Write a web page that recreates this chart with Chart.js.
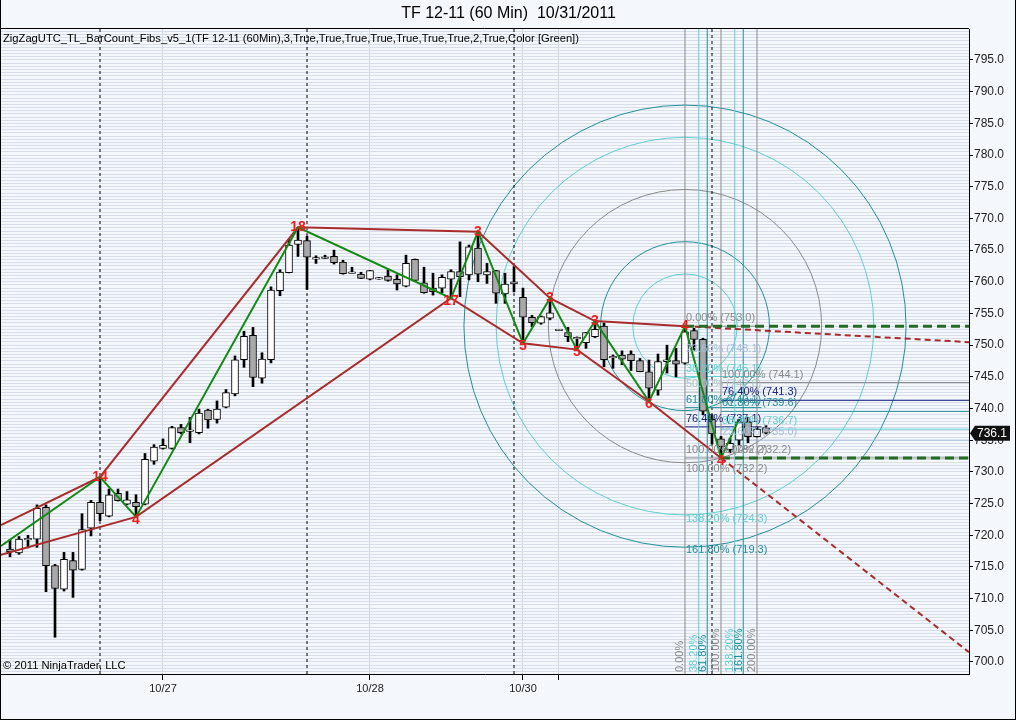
<!DOCTYPE html>
<html><head><meta charset="utf-8">
<script src="https://cdn.jsdelivr.net/npm/chart.js@4.4.1/dist/chart.umd.min.js"></script>
<style>html,body{margin:0;padding:0;background:#f4f7fb;}#wrap{width:1016px;height:720px;position:relative;}</style>
</head><body><div id="wrap"><canvas id="c" width="1016" height="720"></canvas></div>
<script>
// ---------------- data ----------------
const titleText = 'TF 12-11 (60 Min)  10/31/2011';
const indicatorText = 'ZigZagUTC_TL_BarCount_Fibs_v5_1(TF 12-11 (60Min),3,True,True,True,True,True,True,True,2,True,Color [Green])';
const copyrightText = '\u00A9 2011 NinjaTrader, LLC';

const opens  = [717.8,717.2,719.4,719.4,724.4,715.2,711.5,716.0,714.6,721.1,725.2,723.0,726.6,724.9,725.2,724.9,731.7,733.7,733.7,737.0,736.5,736.2,739.75,738.3,740.2,742.3,747.7,751.55,744.8,747.7,758.6,761.45,765.9,766.5,763.7,763.8,764.0,763.1,761.45,761.2,760.4,760.55,760.9,760.4,759.3,763.55,759.85,759.0,759.0,760.4,761.6,761.1,765.3,761.1,761.75,758.1,759.65,757.55,754.4,753.45,754.25,752.4,752.0,751.1,750.4,751.35,753.0,748.1,748.45,748.6,747.55,745.8,742.9,747.4,747.55,747.15,752.3,750.9,738.3,735.2,733.5,735.0,737.9,735.55,737.0];
const highs  = [719.3,719.8,720.0,724.8,724.8,715.4,717.3,717.3,723.4,725.5,729.2,727.3,727.3,726.9,726.4,732.9,734.3,735.2,737.2,737.5,738.6,739.9,739.9,741.2,743.0,748.3,752.2,752.8,748.8,759.2,761.9,766.7,768.6,767.2,764.1,764.2,765.0,763.4,762.3,761.5,761.8,760.7,761.9,761.1,764.2,763.6,762.3,761.35,761.1,761.9,766.3,765.8,767.9,762.9,761.8,761.35,762.4,759.0,754.7,754.6,757.4,752.5,752.8,751.3,752.0,753.8,753.5,748.45,749.1,749.1,747.9,747.65,748.6,750.0,749.5,753.0,752.65,751.1,739.0,735.6,735.3,738.3,738.6,737.1,737.3];
const lows   = [716.6,717.0,718.0,718.1,711.1,703.9,711.2,710.2,714.5,719.9,722.3,722.9,725.4,724.8,722.9,724.8,731.2,733.6,733.6,736.0,734.6,736.0,736.9,737.7,740.1,742.0,746.5,743.45,744.0,747.2,757.8,761.4,764.0,758.8,762.9,763.7,762.8,761.2,761.4,760.5,760.3,760.4,760.1,758.7,759.2,760.1,758.2,757.9,758.3,757.4,757.65,760.3,760.0,759.75,756.6,756.6,758.4,750.3,752.9,753.3,754.0,752.3,750.55,749.3,749.5,751.2,746.6,746.35,746.9,746.0,745.8,741.1,742.1,745.6,745.0,747.0,749.2,739.0,734.4,732.2,733.0,734.3,734.6,735.5,736.0];
const closes = [717.4,719.4,719.4,724.25,715.2,711.6,716.2,714.5,720.9,725.2,723.4,726.4,725.45,725.6,724.5,732.0,733.9,734.2,737.0,736.2,736.5,739.3,738.2,739.9,742.5,747.7,751.4,744.9,747.8,758.7,761.55,765.8,766.6,763.9,763.7,763.8,763.0,761.3,761.45,760.55,761.75,760.55,760.2,759.65,762.9,760.2,758.3,758.45,760.7,761.6,760.8,765.5,761.2,761.6,758.2,759.65,760.0,754.4,753.55,754.5,755.1,752.4,751.35,751.1,752.0,752.5,747.7,748.1,747.8,747.55,745.8,743.2,747.4,747.7,747.0,752.1,750.9,739.6,736.0,734.0,734.5,737.9,735.55,736.75,736.1];

const xTickValues = [17, 40, 57, 61];
const xTickLabels = ['10/27', '10/28', '10/30', ''];
const sessionBreaks = [10, 33, 56, 78];

// zigzag swing points (bar index, price, bar-count label)
const zigzagBars   = [-1, 10, 14, 32, 49, 52, 57, 60, 63, 65, 71, 75, 79, 81];
const zigzagPrices = [718.3, 729.2, 722.9, 768.6, 757.4, 767.9, 750.3, 757.4, 749.3, 753.8, 741.1, 753.0, 732.2, 738.3];
const pivotLabels  = ['', '14', '4', '18', '17', '3', '5', '3', '5', '3', '6', '4', '4', ''];

// trend lines joining swing highs / swing lows
const highLineBars   = [-1, 10, 32, 52, 60, 65, 75];
const highLinePrices = [721.6, 729.2, 768.6, 767.9, 757.4, 753.8, 753.0];
const lowLineBars    = [-1, 14, 49, 57, 63, 71, 79];
const lowLinePrices  = [716.9, 722.9, 757.4, 750.3, 749.3, 741.1, 732.2];

// fibonacci tools
const fibHighBar = 75, fibHighPrice = 753.0;
const fibLowBar = 79, fibLowPrice = 732.2;
const fibRetraceEndBar = 83.5;
const projTopPrice = 744.1;
const fibRetraceRatios = [0, 0.236, 0.382, 0.5, 0.618, 0.764, 1];
const fibExtRatios = [1, 1.382, 1.618];
const fibProjRatios = [0, 0.236, 0.382, 0.618, 0.764, 1];
const fibTimeRatios = [0, 0.382, 0.618, 1, 1.382, 1.618, 2];
const fibCircleRatios = [0.382, 0.618, 1, 1.382, 1.618];
const lastPrice = 736.1;

const yMin = 698.106, yMax = 799.892, yStep = 0.5, yLabelStep = 5;
const xMin = -1, xMax = 106.556;

// ---------------- styles ----------------
const FONT = '"Liberation Sans", Arial, sans-serif';
const C_GRAY = '#8a8a8a', C_LTEAL = '#5fd0d0', C_TEAL = '#238f9a', C_NAVY = '#1c2480', C_PALE = '#a9bedb', C_PALEGRAY = '#adc4c4';
function fibColor(r) {
  const k = Math.round(r * 1000);
  if (k === 236) return C_PALE;
  if (k === 382 || k === 1382) return C_LTEAL;
  if (k === 500) return C_PALEGRAY;
  if (k === 618 || k === 1618) return C_TEAL;
  if (k === 764) return C_NAVY;
  return C_GRAY;
}
function pct(r) { return (r * 100).toFixed(2) + '%'; }
const RED = 'rgb(168,44,44)', GREEN = '#118a11', DKGREEN = '#256b25';

// ---------------- datasets ----------------
const bars = opens.map((_, i) => i);
const bodyData = bars.map(i => {
  let a = opens[i], b = closes[i];
  if (Math.abs(a - b) < 0.15) { const m = (a + b) / 2; a = m - 0.12; b = m + 0.12; }
  return {x: i, y: [Math.min(a, b), Math.max(a, b)]};
});
const bodyColors = bars.map(i => closes[i] < opens[i] ? '#a9a9a9' : '#ffffff');
const wickData = bars.map(i => ({x: i, y: [lows[i], highs[i]]}));

function pts(xsArr, ysArr) { return xsArr.map((x, k) => ({x: x, y: ysArr[k]})); }
function lineDS(points, color, width, dash, order) {
  return {type: 'line', data: points, borderColor: color, borderWidth: width, borderDash: dash || [],
    pointRadius: 0, pointHoverRadius: 0, fill: false, tension: 0, order: order, borderCapStyle: 'butt'};
}
function extend(x0, y0, x1, y1, xe) { return y1 + (y1 - y0) / (x1 - x0) * (xe - x1); }

const datasets = [];
datasets.push(lineDS(pts(zigzagBars, zigzagPrices), GREEN, 2, [], 1));
datasets.push(lineDS(pts(highLineBars, highLinePrices), RED, 2, [], 2));
datasets.push(lineDS(pts(lowLineBars, lowLinePrices), RED, 2, [], 2));
{
  const n = highLineBars.length;
  const x0 = highLineBars[n - 2], y0 = highLinePrices[n - 2], x1 = highLineBars[n - 1], y1 = highLinePrices[n - 1];
  datasets.push(lineDS([{x: x1, y: y1}, {x: xMax, y: extend(x0, y0, x1, y1, xMax)}], RED, 2, [6, 4], 2));
  const m = lowLineBars.length;
  const a0 = lowLineBars[m - 2], b0 = lowLinePrices[m - 2], a1 = lowLineBars[m - 1], b1 = lowLinePrices[m - 1];
  datasets.push(lineDS([{x: a1, y: b1}, {x: xMax, y: extend(a0, b0, a1, b1, xMax)}], RED, 2, [6, 4], 2));
}
datasets.push(lineDS([{x: fibHighBar, y: fibHighPrice}, {x: xMax, y: fibHighPrice}], DKGREEN, 3, [9, 5], 0));
datasets.push(lineDS([{x: fibLowBar, y: fibLowPrice}, {x: xMax, y: fibLowPrice}], DKGREEN, 3, [9, 5], 0));

datasets.push({type: 'bar', data: bodyData, backgroundColor: bodyColors, borderColor: '#000', borderWidth: 1,
  borderSkipped: false, barThickness: 7, grouped: false, order: 4});
datasets.push({type: 'bar', data: wickData, backgroundColor: '#000', borderWidth: 0,
  barThickness: 2, grouped: false, order: 5});

sessionBreaks.forEach(b => datasets.push(lineDS([{x: b, y: yMin}, {x: b, y: yMax}], '#000', 1, [3, 3], 9)));
fibTimeRatios.forEach(r => {
  const b = fibHighBar + r * (fibLowBar - fibHighBar);
  datasets.push(lineDS([{x: b, y: yMin}, {x: b, y: yMax}], fibColor(r), 1, [], 8));
});
fibRetraceRatios.forEach(r => {
  const p = fibHighPrice - r * (fibHighPrice - fibLowPrice);
  datasets.push(lineDS([{x: fibHighBar, y: p}, {x: fibRetraceEndBar, y: p}], fibColor(r), 1, [], 8));
});
fibProjRatios.forEach(r => {
  const p = fibLowPrice + r * (projTopPrice - fibLowPrice);
  datasets.push(lineDS([{x: fibLowBar, y: p}, {x: xMax, y: p}], fibColor(r), 1, [], 8));
});

// ---------------- plugins ----------------
const bgPlugin = {
  id: 'bg',
  beforeDraw(chart) {
    const ctx = chart.ctx;
    ctx.save(); ctx.fillStyle = '#f4f7fb'; ctx.fillRect(0, 0, chart.width, chart.height); ctx.restore();
  },
  beforeDatasetsDraw(chart) {
    const {ctx, chartArea: a, scales: {x: xs, y: ys}} = chart;
    const cx = xs.getPixelForValue(fibHighBar), cy = ys.getPixelForValue(fibHighPrice);
    const px = xs.getPixelForValue(fibLowBar), py = ys.getPixelForValue(fibLowPrice);
    const d = Math.hypot(px - cx, py - cy);
    ctx.save();
    ctx.beginPath(); ctx.rect(a.left, a.top, a.right - a.left, a.bottom - a.top); ctx.clip();
    ctx.lineWidth = 1;
    fibCircleRatios.forEach(r => {
      ctx.strokeStyle = fibColor(r);
      ctx.beginPath(); ctx.arc(cx, cy, d * r, 0, Math.PI * 2); ctx.stroke();
    });
    ctx.restore();
  },
  afterDatasetsDraw(chart) {
    const {ctx, chartArea: a, scales: {x: xs, y: ys}} = chart;
    ctx.save();
    // fib retracement labels
    ctx.font = '11px ' + FONT; ctx.textAlign = 'left'; ctx.textBaseline = 'middle';
    const x1 = xs.getPixelForValue(fibHighBar) + 1;
    fibRetraceRatios.forEach(r => {
      const p = fibHighPrice - r * (fibHighPrice - fibLowPrice);
      ctx.fillStyle = fibColor(r);
      ctx.fillText(pct(r) + ' (' + p.toFixed(1) + ')', x1, ys.getPixelForValue(p) - 8);
    });
    fibExtRatios.forEach(r => {
      const p = fibHighPrice - r * (fibHighPrice - fibLowPrice);
      ctx.fillStyle = fibColor(r);
      ctx.fillText(pct(r) + ' (' + p.toFixed(1) + ')', x1, ys.getPixelForValue(p) + 11);
    });
    const x2 = xs.getPixelForValue(fibLowBar) + 1;
    fibProjRatios.forEach(r => {
      const p = fibLowPrice + r * (projTopPrice - fibLowPrice);
      ctx.fillStyle = fibColor(r);
      ctx.fillText(pct(r) + ' (' + p.toFixed(1) + ')', x2, ys.getPixelForValue(p) - 8);
    });
    // fib time labels (vertical)
    fibTimeRatios.forEach(r => {
      const x = xs.getPixelForValue(fibHighBar + r * (fibLowBar - fibHighBar));
      ctx.save();
      ctx.translate(x - 1.5, a.bottom - 2); ctx.rotate(-Math.PI / 2);
      ctx.textAlign = 'left'; ctx.textBaseline = 'alphabetic'; ctx.fillStyle = fibColor(r);
      ctx.fillText(pct(r), 0, 0);
      ctx.restore();
    });
    // pivot bar-count labels
    ctx.font = 'bold 14px ' + FONT; ctx.textAlign = 'center'; ctx.textBaseline = 'middle'; ctx.fillStyle = '#f01c1c';
    zigzagBars.forEach((b, k) => {
      const t = pivotLabels[k]; if (!t) return;
      const high = k > 0 && zigzagPrices[k] > zigzagPrices[k - 1];
      ctx.fillText(t, xs.getPixelForValue(b), ys.getPixelForValue(zigzagPrices[k]) + (high ? 0 : 3));
    });
    // indicator and copyright texts
    ctx.font = '11.2px ' + FONT; ctx.textAlign = 'left'; ctx.fillStyle = '#000';
    ctx.fillText(indicatorText, a.left + 2, a.top + 10);
    ctx.fillText(copyrightText, a.left + 2, a.bottom - 8);
    // frame
    ctx.strokeStyle = '#000'; ctx.lineWidth = 1;
    ctx.beginPath();
    ctx.moveTo(0, a.top - 0.5); ctx.lineTo(a.right, a.top - 0.5);
    ctx.moveTo(0.5, 0); ctx.lineTo(0.5, chart.height);
    ctx.moveTo(0, chart.height - 0.5); ctx.lineTo(chart.width, chart.height - 0.5);
    ctx.moveTo(chart.width - 0.5, 0); ctx.lineTo(chart.width - 0.5, chart.height);
    ctx.stroke();
    // last price marker
    const yp = ys.getPixelForValue(lastPrice);
    ctx.fillStyle = '#111';
    ctx.beginPath();
    ctx.moveTo(a.right + 1, yp); ctx.lineTo(a.right + 6, yp - 7.5); ctx.lineTo(a.right + 41, yp - 7.5);
    ctx.lineTo(a.right + 41, yp + 7.5); ctx.lineTo(a.right + 6, yp + 7.5); ctx.closePath(); ctx.fill();
    ctx.fillStyle = '#fff'; ctx.font = '12px ' + FONT; ctx.textAlign = 'left'; ctx.textBaseline = 'middle';
    ctx.fillText(lastPrice.toFixed(1), a.right + 8, yp + 0.5);
    ctx.restore();
  }
};

function isMajor(v) { return Math.abs(v / yLabelStep - Math.round(v / yLabelStep)) < 1e-6; }

new Chart(document.getElementById('c'), {
  type: 'bar',
  data: {datasets: datasets},
  options: {
    responsive: false, animation: false, devicePixelRatio: 1,
    layout: {padding: {left: 1, right: 0, top: 0, bottom: 0}},
    plugins: {
      legend: {display: false}, tooltip: {enabled: false},
      title: {display: true, text: titleText, color: '#000', font: {family: FONT, size: 16, weight: 'normal'},
        padding: {top: 4, bottom: 5.8}}
    },
    scales: {
      x: {
        type: 'linear', min: xMin, max: xMax, offset: false,
        afterBuildTicks(s) { s.ticks = xTickValues.map(v => ({value: v})); },
        afterFit(s) { s.height = 46; },
        ticks: {autoSkip: false, maxRotation: 0, minRotation: 0, padding: 2, color: '#222',
          font: {family: FONT, size: 11},
          callback(v) { const k = xTickValues.indexOf(v); return k >= 0 ? xTickLabels[k] : ''; }},
        grid: {color: '#d2d8e0', tickLength: 6, tickColor: '#000', offset: false},
        border: {color: '#000', width: 1}
      },
      y: {
        type: 'linear', position: 'right', min: yMin, max: yMax,
        afterFit(s) { s.width = 47; },
        ticks: {stepSize: yStep, autoSkip: false, includeBounds: false, padding: 1, color: '#222',
          font: {family: FONT, size: 12},
          callback(v) { return isMajor(v) ? v.toFixed(1) : ''; }},
        grid: {color: '#d7dde9', tickLength: 4,
          tickColor(ctx) { return ctx.tick && isMajor(ctx.tick.value) ? '#000' : 'rgba(0,0,0,0)'; }},
        border: {color: '#000', width: 1}
      }
    }
  },
  plugins: [bgPlugin]
});
</script></body></html>
